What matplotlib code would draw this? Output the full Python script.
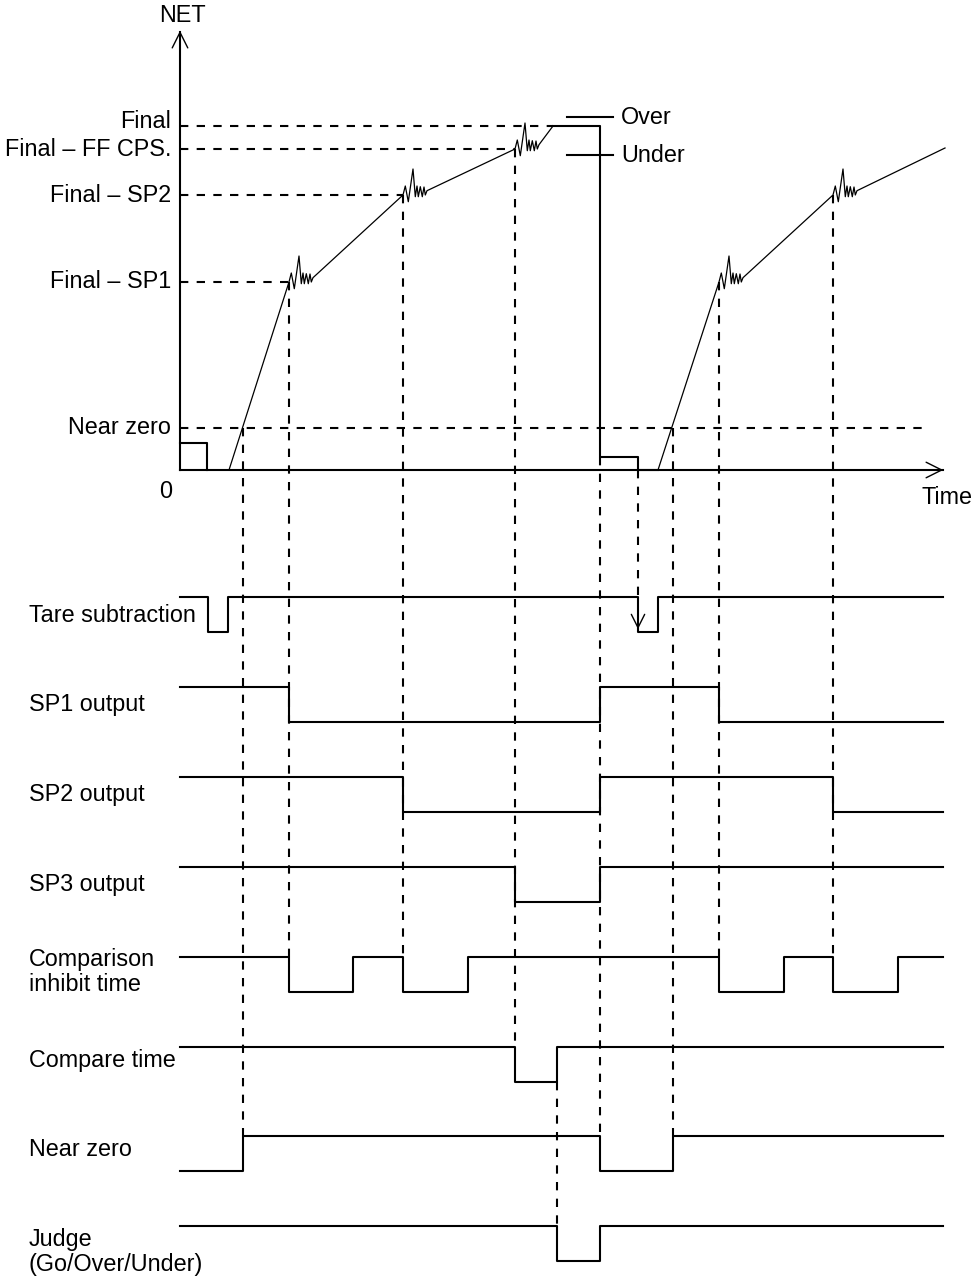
import matplotlib
matplotlib.use("Agg")
import matplotlib.pyplot as plt

plt.rcParams['font.family'] = ['Liberation Sans', 'DejaVu Sans']
plt.rcParams['lines.scale_dashes'] = False

# NET levels (arbitrary units, 0 sits on the time axis)
level_names = ["Final", "Final – FF CPS.", "Final – SP2", "Final – SP1", "Near zero"]
level_values = [344, 321, 275, 188, 42]
level_dash_end = [553, 515, 403, 289, 925]

# NET trace; True where the weight settles with a ripple
net_t = [180, 207, 207, 229, 289, 403, 515, 553, 600, 600, 638, 638, 658, 719, 833, 945]
net_v = [27, 27, 0, 0, 188, 275, 321, 344, 344, 13, 13, 0, 0, 188, 275, 322]
net_ripple = [False, False, False, False, True, True, True,
              False, False, False, False, False, False, True, True, False]

# ripple shape after each cut-off
ripple_dt = [0, 2.3, 5.3, 10, 12.3, 14, 15.3, 17.3, 19.3, 21, 22.3, 24]
ripple_dv = [0, 9, -6.7, 26, -1.7, 9, -1.7, 8.3, -1.7, 8, 0, 4.3]

# judge markers
judge_names = ["Over", "Under"]
judge_values = [353, 315]

# timing signals: initial state (1 = high) and the times where they toggle
signal_names = ["Tare subtraction", "SP1 output", "SP2 output", "SP3 output",
                "Comparison\ninhibit time", "Compare time", "Near zero",
                "Judge\n(Go/Over/Under)"]
signal_start = [1, 1, 1, 1, 1, 1, 0, 1]
signal_edges = [[208, 228, 638, 658],
                [289, 600, 719],
                [403, 600, 833],
                [515, 600],
                [289, 353, 403, 468, 719, 784, 833, 898],
                [515, 557],
                [243, 600, 673],
                [557, 600]]

# dashed guides: time, where they start (NET level, or None = low of a row), row they reach
guide_t = [243, 289, 403, 515, 557, 600, 638, 673, 719, 833]
guide_from_net = [42, 188, 275, 321, None, 13, 0, 42, 188, 275]
guide_from_row = [None, None, None, None, 5, None, None, None, None, None]
guide_to_row = [6, 4, 4, 5, 7, 6, 0, 6, 4, 4]

# layout (pixel-like units)
AXIS_Y = 470
X0, X1 = 180, 943
row_y = [597, 687, 777, 867, 957, 1047, 1136, 1226]
ROW_H = 35
label_off = [19, 18, 18, 17, 15, 14, 14, 26]
FS = 16.8
LW = 1.5
DASH = (0, (6, 6))


def ny(v):
    return AXIS_Y - v


fig = plt.figure(figsize=(9.73, 12.82), dpi=100)
ax = fig.add_axes([0, 0, 1, 1])
ax.set_xlim(0, 973)
ax.set_ylim(1282, 0)
ax.axis('off')

# axes with open arrow heads
ax.plot([X0, X0], [AXIS_Y, 32], color='black', lw=LW)
ax.plot([X0, 943], [AXIS_Y, AXIS_Y], color='black', lw=LW)
ax.annotate('', xy=(X0, 28), xytext=(X0, 60),
            arrowprops=dict(arrowstyle='->', lw=1.0, color='black', mutation_scale=28))
ax.annotate('', xy=(946, AXIS_Y), xytext=(910, AXIS_Y),
            arrowprops=dict(arrowstyle='->', lw=1.0, color='black', mutation_scale=28))
ax.text(182, 15, "NET", fontsize=FS, ha='center', va='center')
ax.text(921, 498, "Time", fontsize=FS, ha='left', va='center')
ax.text(166, 492, "0", fontsize=FS, ha='center', va='center')

# level lines and labels
for i, (name, v, xe) in enumerate(zip(level_names, level_values, level_dash_end)):
    ax.plot([X0, xe], [ny(v), ny(v)], color='black', lw=LW, linestyle=DASH)
    dy = -5 if i == 0 else 0
    ax.text(171, ny(v) + dy, name, fontsize=FS, ha='right', va='center')

# NET trace
px, py = [], []
for t, v, r in zip(net_t, net_v, net_ripple):
    if r:
        for dt, dv in zip(ripple_dt, ripple_dv):
            px.append(t + dt)
            py.append(ny(v + dv))
    else:
        px.append(t)
        py.append(ny(v))
# the trace is thin, but the discharge step is drawn heavy
ax.plot(px, py, color='black', lw=0.9)
i8 = net_t.index(553)
ax.plot(net_t[i8:i8 + 6], [ny(v) for v in net_v[i8:i8 + 6]], color='black', lw=LW)
ax.plot(net_t[:3], [ny(v) for v in net_v[:3]], color='black', lw=LW)

# Over / Under markers
for name, v in zip(judge_names, judge_values):
    ax.plot([567, 613], [ny(v), ny(v)], color='black', lw=LW)
    ax.text(621, ny(v), name, fontsize=FS, ha='left', va='center')

# timing rows
for k, (name, s, edges) in enumerate(zip(signal_names, signal_start, signal_edges)):
    hi, lo = row_y[k], row_y[k] + ROW_H
    state = s
    xs, ys = [X0], [hi if state else lo]
    for e in edges:
        xs += [e, e]
        ys += [hi if state else lo]
        state = 1 - state
        ys += [hi if state else lo]
    xs.append(X1)
    ys.append(hi if state else lo)
    ax.plot(xs, ys, color='black', lw=LW)
    ax.text(29, hi + label_off[k], name, fontsize=FS, ha='left', va='center',
            linespacing=1.1)

# dashed guides
for t, fn, fr, tr in zip(guide_t, guide_from_net, guide_from_row, guide_to_row):
    y0 = ny(fn) if fn is not None else row_y[fr] + ROW_H
    ax.plot([t, t], [y0, row_y[tr]], color='black', lw=LW, linestyle=DASH)

# tare trigger arrow
ax.annotate('', xy=(638, row_y[0] + ROW_H), xytext=(638, row_y[0] + 5),
            arrowprops=dict(arrowstyle='->', lw=1.0, color='black', mutation_scale=24))

fig.savefig("out.png", dpi=100)
